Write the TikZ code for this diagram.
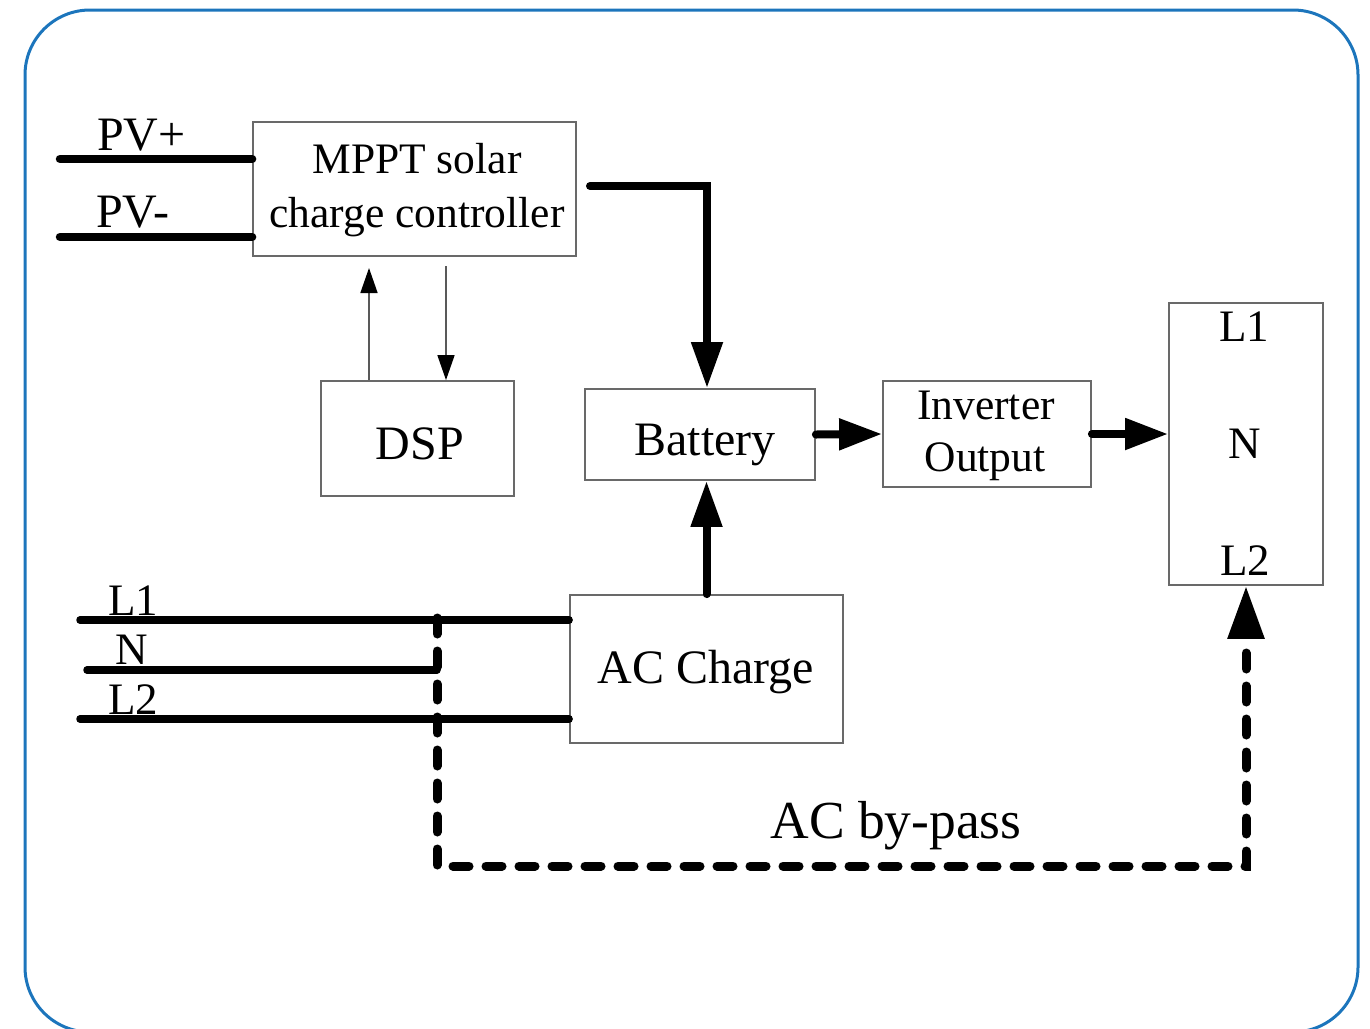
\documentclass[tikz,border=0pt]{standalone}
\usepackage{fontspec}
\setmainfont{Liberation Serif}
\usetikzlibrary{arrows.meta}
\definecolor{frameblue}{RGB}{28,117,188}
\definecolor{boxgray}{RGB}{105,105,105}
\begin{document}
\begin{tikzpicture}[x=1pt,y=-1pt,
  box/.style={draw=boxgray,line width=1.8pt,inner sep=0pt},
  txt/.style={inner sep=0pt,anchor=base},
  txtw/.style={inner sep=0pt,anchor=base west},
  fa/.style={font=\fontsize{43.5}{54}\selectfont},
  fb/.style={font=\fontsize{48}{54}\selectfont},
  fc/.style={font=\fontsize{45}{54}\selectfont},
  power/.style={line width=8.5pt,line cap=round},
  bigarrow/.style={line width=8pt,line cap=round,-{Triangle[length=46pt,width=30pt]}},
  midarrow/.style={line width=8pt,line cap=round,-{Triangle[length=43pt,width=30pt]}},
  thinarrow/.style={draw=black!65,line width=1.5pt,-{Triangle[length=25pt,width=17pt,color=black]}},
  bypass/.style={line width=9pt,line cap=round,dash pattern=on 16pt off 17pt,-{Triangle[length=53pt,width=35pt]}}]
\useasboundingbox (0,0) rectangle (1370,1028);
\draw[frameblue,line width=3pt,rounded corners=65pt] (25,10) rectangle (1358,1032);

% boxes
\node[box,minimum width=323pt,minimum height=134pt] (mppt) at (414.5,189) {};
\node[box,minimum width=193pt,minimum height=115pt] (dsp) at (417.5,438.5) {};
\node[box,minimum width=230pt,minimum height=91pt] (bat) at (700,434.5) {};
\node[box,minimum width=208pt,minimum height=106pt] (inv) at (987,434) {};
\node[box,minimum width=154pt,minimum height=282pt] (out) at (1246,444) {};
\node[box,minimum width=273pt,minimum height=148pt] (acc) at (706.5,669) {};

% texts
\node[txt,fa] (t1) at (417,173) {MPPT solar};
\node[txt,fa] (t2) at (417,227) {charge controller};
\node[txt,fb] (tdsp) at (420,459) {DSP};
\node[txt,fb] (tbat) at (705,455) {Battery};
\node[txt,fa] (tinv1) at (986,419) {Inverter};
\node[txt,fa] (tinv2) at (985,471) {Output};
\node[txt,fc] (ol1) at (1244,341) {L1};
\node[txt,fc] (on) at (1245,458) {N};
\node[txt,fc] (ol2) at (1245,575) {L2};
\node[txt,fb] (tacc) at (706,683) {AC Charge};
\node[txt,font=\fontsize{53.5}{60}\selectfont] (tbp) at (896,838) {AC by-pass};
\node[txtw,fb] (pvp) at (97,150) {PV+};
\node[txtw,fb] (pvm) at (96,227) {PV-};
\node[txtw,fc] (il1) at (108,615) {L1};
\node[txtw,fc] (in) at (115,664) {N};
\node[txtw,fc] (il2) at (108,714) {L2};

% PV inputs
\coordinate (pvpin) at (60,159);
\coordinate (pvmin) at (60,237);
\draw[power] (pvpin) -- (pvpin -| mppt.west);
\draw[power] (pvmin) -- (pvmin -| mppt.west);

% MPPT -> Battery
\coordinate (mout) at (590,186);
\draw[bigarrow] (mout) -| ([xshift=7pt]bat.north);

% DSP arrows
\coordinate (upt) at (369,268);
\coordinate (dnt) at (446,266);
\draw[thinarrow] (dsp.north -| upt) -- (upt);
\draw[thinarrow] (dnt) -- (dsp.north -| dnt);

% Battery -> Inverter -> Output
\draw[midarrow] (bat.east) -- (inv.west);
\draw[midarrow] (inv.east) -- (inv.east -| out.west);

% AC charge -> Battery
\draw[bigarrow] (acc.north) -- (acc.north |- bat.south);

% AC inputs
\coordinate (acl1) at (80,620);
\coordinate (acn) at (87,670);
\coordinate (acl2) at (80,719);
\coordinate (junc) at (437,670);
\draw[power,line width=7.5pt] (acl1) -- (acl1 -| acc.west);
\draw[power,line width=7.5pt] (acn) -- (junc);
\draw[power,line width=7.5pt] (acl2) -- (acl2 -| acc.west);

% AC by-pass
\coordinate (bps) at (437,618);
\coordinate (bpc) at (437,866);
\draw[bypass] (bps) -- (bpc) -| (out.south);
\end{tikzpicture}
\end{document}
